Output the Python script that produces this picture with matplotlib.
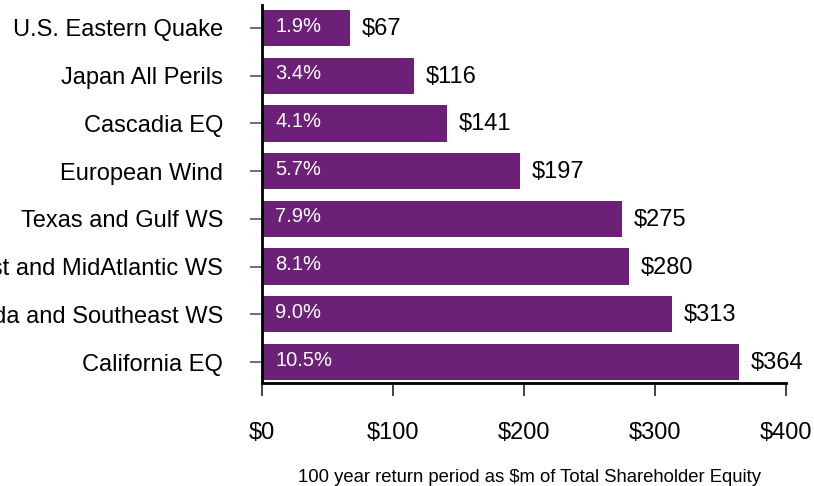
import matplotlib
matplotlib.use("Agg")
import matplotlib.pyplot as plt

categories = [
    "U.S. Eastern Quake",
    "Japan All Perils",
    "Cascadia EQ",
    "European Wind",
    "Texas and Gulf WS",
    "Northeast and MidAtlantic WS",
    "Florida and Southeast WS",
    "California EQ",
]
values = [67, 116, 141, 197, 275, 280, 313, 364]
pct_labels = ["1.9%", "3.4%", "4.1%", "5.7%", "7.9%", "8.1%", "9.0%", "10.5%"]
xticks = [0, 100, 200, 300, 400]
xtick_labels = ["$0", "$100", "$200", "$300", "$400"]

plt.rcParams["font.family"] = ["Liberation Sans", "DejaVu Sans"]

fig = plt.figure(figsize=(8.14, 4.86), dpi=100)
ax = fig.add_axes([0.3219, 0.2119, 0.6437, 0.7778])

bar_color = "#6C2077"
ypos = list(range(len(categories)))
ax.barh(ypos, values, height=0.76, color=bar_color, zorder=2)

for y, v, p in zip(ypos, values, pct_labels):
    ax.text(10, y - 0.04, p, color="white", fontsize=14.5, ha="left", va="center")
    ax.text(v + 9, y + 0.02, f"${v}", color="black", fontsize=17, ha="left", va="center")

ax.set_xlim(0, 400)
ax.set_ylim(7.44, -0.48)
ax.set_yticks(ypos)
ax.set_yticklabels(categories, fontsize=17)
ax.set_xticks(xticks)
ax.set_xticklabels(xtick_labels, fontsize=17)

ax.spines["top"].set_visible(False)
ax.spines["right"].set_visible(False)
ax.spines["left"].set_linewidth(2)
ax.spines["bottom"].set_linewidth(2)
ax.tick_params(axis="y", length=8.6, width=1.2, color="#555555", pad=19.5)
ax.tick_params(axis="x", length=9.4, width=1.2, color="#222222", pad=18.5)

ax.set_xlabel("100 year return period as $m of Total Shareholder Equity",
              fontsize=13.3, labelpad=18)
ax.xaxis.label.set_x(0.51)

fig.savefig("out.png", dpi=100)
